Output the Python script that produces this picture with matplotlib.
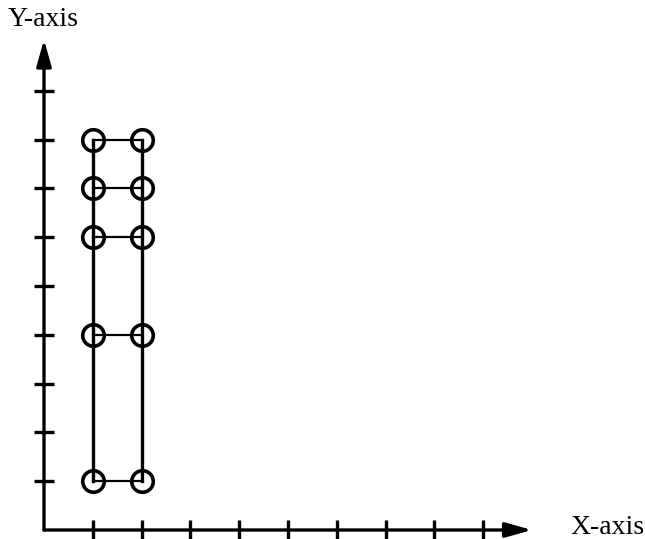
import matplotlib
matplotlib.use("Agg")
import matplotlib.pyplot as plt

# tick positions along each axis
x_ticks = [1, 2, 3, 4, 5, 6, 7, 8, 9]
y_ticks = [1, 2, 3, 4, 5, 6, 7, 8, 9]

# the two columns of points and the levels where they sit
cols = [1, 2]
levels = [1, 4, 6, 7, 8]

x_end = 10.0
y_end = 10.05

fig = plt.figure(figsize=(6.45, 5.39), dpi=100)
ax = fig.add_axes([0, 0, 1, 1])
unit = 48.8
ax.set_xlim(-44 / unit, (645 - 44) / unit)
ax.set_ylim(-(539 - 530) / unit, 530 / unit)
ax.axis("off")

# axes with arrow heads
arrow = dict(arrowstyle="-|>,head_length=1.0,head_width=0.28", lw=2.4,
             color="black", shrinkA=0, shrinkB=0, mutation_scale=16)
ax.annotate("", xy=(0, y_end), xytext=(0, 0), arrowprops=arrow)
ax.annotate("", xy=(x_end, 0), xytext=(0, 0), arrowprops=arrow)

# tick marks crossing the axes
ax.plot(x_ticks, [0] * len(x_ticks), ls="none", marker="|", ms=14, mew=2.4, color="black")
ax.plot([0] * len(y_ticks), y_ticks, ls="none", marker="_", ms=14, mew=2.4, color="black")

# vertical sides
for c in cols:
    ax.plot([c, c], [min(levels), max(levels)], color="black", lw=2.4)

# rungs
for lv in levels:
    ax.plot(cols, [lv, lv], color="black", lw=1.6)

# circles
for c in cols:
    ax.plot([c] * len(levels), levels, ls="none", marker="o", ms=15.5,
            mfc="none", mec="black", mew=2.6)

ax.text(8 / unit - 44 / unit, (530 - 20) / unit, "Y-axis", fontsize=20,
        family="Liberation Serif", va="center", ha="left")
ax.text((570 - 44) / unit, (530 - 528) / unit, "X-axis", fontsize=20,
        family="Liberation Serif", va="center", ha="left")

fig.savefig("out.png", dpi=100)
